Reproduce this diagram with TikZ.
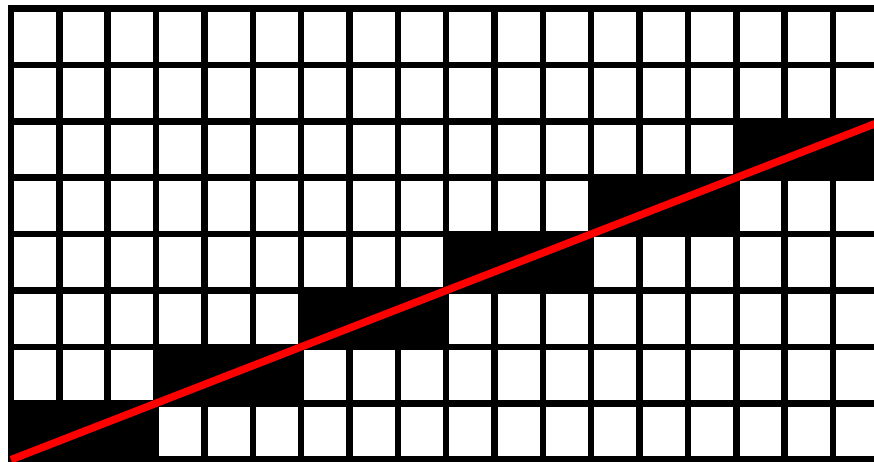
\documentclass[tikz,border=0pt]{standalone}
\begin{document}
\begin{tikzpicture}[x=1pt,y=-1pt,
  gridline/.style={black,line width=6.5pt},
  redline/.style={red,line width=7.5pt},
  filled/.style={fill=black}]
\def\xo{11}\def\dx{48.35}\def\yo{8.5}\def\dy{56.4}
\useasboundingbox (0,0) rectangle (874,462);
\fill[white] (0,0) rectangle (874,462);
\begin{scope}
\clip (0,0) rectangle (874,462);
% black cells: row r, starting column c, three columns wide
\foreach \r/\c in {7/0,6/3,5/6,4/9,3/12,2/15}{
  \fill[filled] ({\xo+\dx*\c},{\yo+\dy*\r}) rectangle ({\xo+\dx*(\c+3)},{\yo+\dy*(\r+1)});
}
% grid lines
\foreach \i in {0,...,18}{
  \draw[gridline] ({\xo+\dx*\i},{\yo-3.25}) -- ({\xo+\dx*\i},{\yo+\dy*8+3.25});
}
\foreach \j in {0,...,8}{
  \draw[gridline] ({\xo-3.25},{\yo+\dy*\j}) -- ({\xo+\dx*18+3.25},{\yo+\dy*\j});
}
% red line
\coordinate (rs) at ({\xo},{\yo+\dy*8});
\coordinate (re) at ({\xo+\dx*18},{\yo+\dy*2});
\draw[redline] (rs) -- (re);
\end{scope}
\end{tikzpicture}
\end{document}
